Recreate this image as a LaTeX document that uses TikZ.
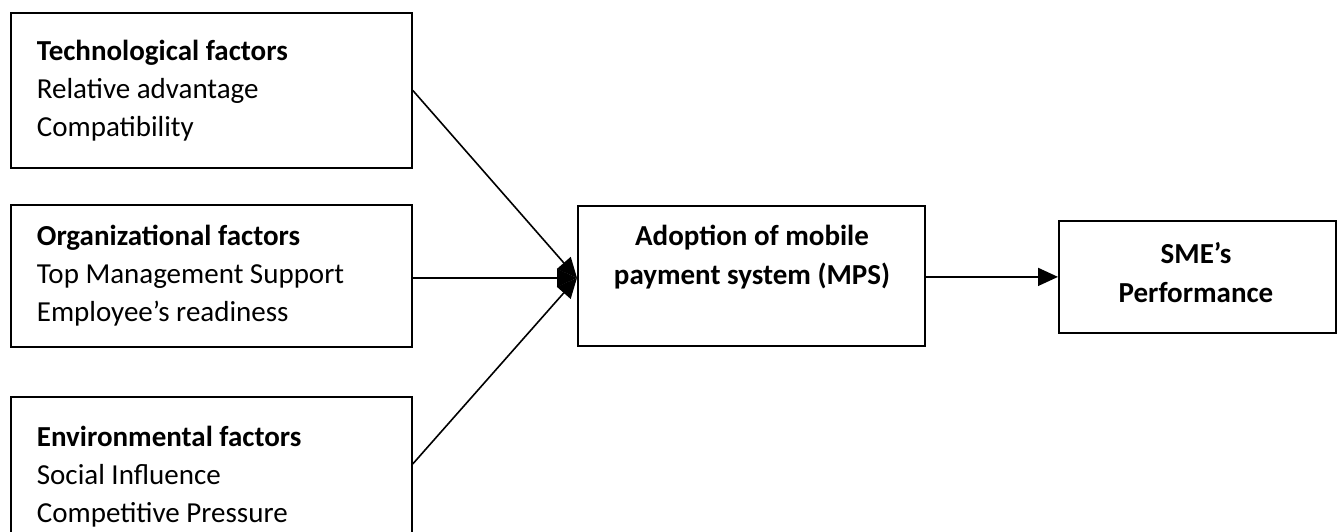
\documentclass[tikz,border=0pt]{standalone}
\usepackage{fontspec}
\setmainfont{Carlito}
\usetikzlibrary{arrows.meta}
\begin{document}
\begin{tikzpicture}[x=1pt,y=-1pt,
  box/.style={draw=black, line width=1.8pt, rectangle, inner sep=0pt},
  lbox/.style={box, anchor=north west, align=left, inner xsep=26pt, inner ysep=0pt,
    font=\fontsize{29}{38}\selectfont, execute at begin node={\spaceskip=0.226em\relax}},
  ctext/.style={align=center, font=\bfseries\fontsize{29}{39}\selectfont, inner sep=0pt,
    execute at begin node={\spaceskip=0.226em\relax}},
  conn/.style={line width=1.6pt, -{Triangle[length=20pt,width=18pt]}}
]
\clip (0,0) rectangle (1337,531);
\fill[white] (0,0) rectangle (1337,531);

\node[lbox, text width=349pt, minimum height=155pt] (tech) at (10,12)
  {\textbf{Technological factors}\\Relative advantage\\Compatibility};
\node[lbox, text width=349pt, minimum height=142pt] (org) at (10,204)
  {\textbf{Organizational factors}\\Top Management Support\\Employee’s readiness};
\node[lbox, text width=349pt, minimum height=160pt] (env) at (10,396)
  {\textbf{Environmental factors}\\Social Influence\\Competitive Pressure};

\node[box, anchor=north west, minimum width=347pt, minimum height=140pt] (mps) at (577,205) {};
\node[ctext] (mpstext) at (752,257) {Adoption of mobile\\payment system (MPS)};

\node[box, anchor=north west, minimum width=277pt, minimum height=112pt] (sme) at (1058,220) {};
\node[ctext] (smetext) at (1196,273) {SME’s\\Performance};

\draw[conn] ([yshift=0pt]tech.east) -- ([yshift=-2pt]mps.west);
\draw[conn] ([yshift=-2pt]org.east) -- ([yshift=-2pt]mps.west);
\draw[conn] ([yshift=13pt]env.east) -- ([yshift=-2pt]mps.west);
\draw[conn] ([yshift=-1pt]mps.east) -- ([yshift=0pt]sme.west);
\end{tikzpicture}
\end{document}
